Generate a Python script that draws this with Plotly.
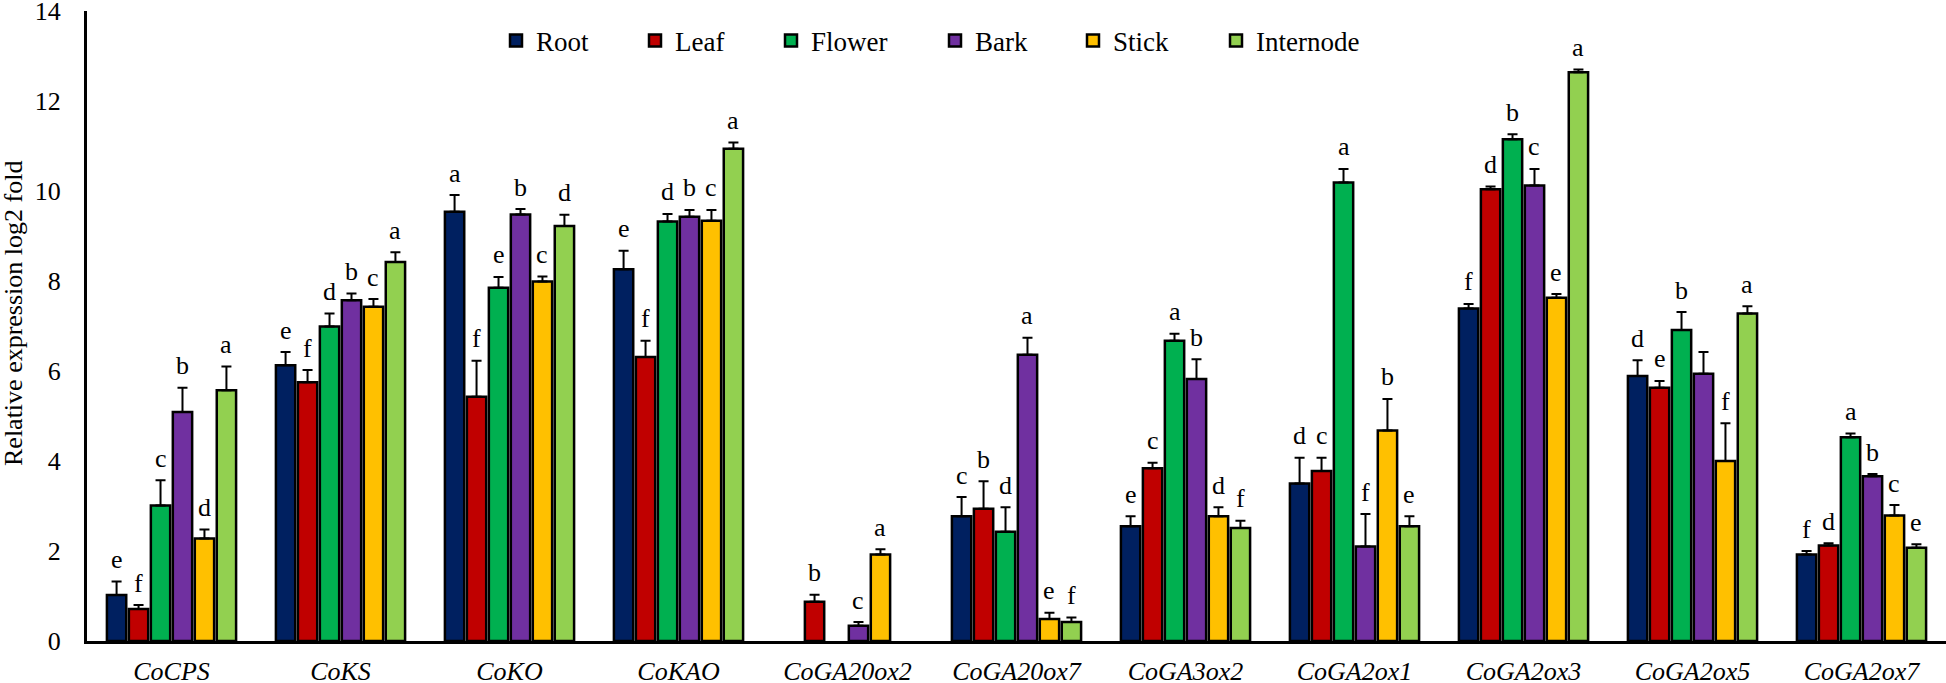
import plotly.graph_objects as go

categories = ["CoCPS", "CoKS", "CoKO", "CoKAO", "CoGA20ox2", "CoGA20ox7",
              "CoGA3ox2", "CoGA2ox1", "CoGA2ox3", "CoGA2ox5", "CoGA2ox7"]

series_names = ["Root", "Leaf", "Flower", "Bark", "Stick", "Internode"]

root = [1.02, 6.13, 9.54, 8.26, None, 2.77, 2.55, 3.50, 7.39, 5.89, 1.92]
root_err = [0.30, 0.29, 0.37, 0.41, 0, 0.43, 0.22, 0.57, 0.10, 0.35, 0.08]
root_sig = ["e", "e", "a", "e", "", "c", "e", "d", "f", "d", "f"]

leaf = [0.71, 5.75, 5.43, 6.31, 0.87, 2.94, 3.84, 3.78, 10.04, 5.63, 2.12]
leaf_err = [0.09, 0.27, 0.80, 0.36, 0.16, 0.61, 0.12, 0.29, 0.06, 0.15, 0.05]
leaf_sig = ["f", "f", "f", "f", "b", "b", "c", "c", "d", "e", "d"]

flower = [3.01, 6.99, 7.85, 9.32, None, 2.43, 6.67, 10.19, 11.15, 6.91, 4.53]
flower_err = [0.56, 0.29, 0.24, 0.17, 0, 0.54, 0.16, 0.30, 0.11, 0.40, 0.08]
flower_sig = ["c", "d", "e", "d", "", "d", "a", "a", "b", "b", "a"]

bark = [5.09, 7.57, 9.48, 9.43, 0.34, 6.36, 5.82, 2.10, 10.12, 5.94, 3.66]
bark_err = [0.54, 0.15, 0.12, 0.15, 0.08, 0.38, 0.44, 0.72, 0.37, 0.48, 0.05]
bark_sig = ["b", "b", "b", "b", "c", "a", "b", "f", "c", "", "b"]

stick = [2.28, 7.43, 7.99, 9.34, 1.92, 0.49, 2.77, 4.68, 7.63, 4.00, 2.79]
stick_err = [0.20, 0.17, 0.11, 0.24, 0.12, 0.14, 0.20, 0.70, 0.08, 0.84, 0.23]
stick_sig = ["d", "c", "c", "c", "a", "e", "d", "b", "e", "f", "c"]

internode = [5.57, 8.42, 9.22, 10.94, None, 0.42, 2.51, 2.55, 12.64, 7.28, 2.07]
internode_err = [0.53, 0.22, 0.25, 0.14, 0, 0.10, 0.16, 0.22, 0.06, 0.16, 0.08]
internode_sig = ["a", "a", "d", "a", "", "f", "f", "e", "a", "a", "e"]

colors = ["#002060", "#C00000", "#00B050", "#7030A0", "#FFC000", "#92D050"]

values = [root, leaf, flower, bark, stick, internode]
errors = [root_err, leaf_err, flower_err, bark_err, stick_err, internode_err]
sigs = [root_sig, leaf_sig, flower_sig, bark_sig, stick_sig, internode_sig]

FONT = "Liberation Serif"
W, H = 1946, 683
ML, MR, MT, MB = 87, 0, 11, 42
BARGAP = 0.22
plot_w = W - ML - MR
plot_h = H - MT - MB

# legend marker centres (px) as laid out in the original figure
legend_px = [515, 654, 790, 954, 1092, 1235]
legend_ids = ["legend"] + ["legend%d" % k for k in range(2, 7)]

fig = go.Figure()
for name, vals, errs, col, lid in zip(series_names, values, errors, colors, legend_ids):
    fig.add_trace(go.Bar(
        name=name, x=categories, y=vals, legend=lid,
        marker=dict(color=col, line=dict(color="black", width=2.5)),
        error_y=dict(type="data", array=errs, arrayminus=[0] * len(errs),
                     symmetric=False, color="black", thickness=2, width=5),
    ))

# significance letters above each error bar
cat_w = plot_w / len(categories)
slot = cat_w * (1 - BARGAP) / len(series_names)
annotations = []
for i, (vals, errs, sg) in enumerate(zip(values, errors, sigs)):
    for j, cat in enumerate(categories):
        if vals[j] is None or not sg[j]:
            continue
        annotations.append(dict(
            x=cat, y=vals[j] + errs[j], xref="x", yref="y",
            text=sg[j], showarrow=False,
            xshift=(i - 2.5) * slot, yshift=22, yanchor="middle",
            font=dict(family=FONT, size=26, color="black"),
        ))

# y-axis title
annotations.append(dict(
    text="Relative expression log2 fold", textangle=-90, showarrow=False,
    xref="paper", yref="paper", x=(13 - ML) / plot_w, y=(H - MB - 314) / plot_h,
    xanchor="center", yanchor="middle",
    font=dict(family=FONT, size=26, color="black"),
))

legend_layout = {}
for lid, px in zip(legend_ids, legend_px):
    legend_layout[lid] = dict(
        orientation="h", x=(px - 19 - ML) / plot_w, y=(H - MB - 41) / plot_h,
        xanchor="left", yanchor="middle",
        font=dict(family=FONT, size=27, color="black"),
        bgcolor="rgba(0,0,0,0)",
    )

fig.update_layout(
    width=W, height=H,
    margin=dict(l=ML, r=MR, t=MT, b=MB, autoexpand=False),
    paper_bgcolor="white", plot_bgcolor="white",
    barmode="group", bargap=BARGAP, bargroupgap=0.12,
    font=dict(family=FONT, size=25, color="black"),
    showlegend=True,
    annotations=annotations,
    xaxis=dict(showline=True, linecolor="black", linewidth=3, ticks="",
               showgrid=False, automargin=False,
               tickfont=dict(family=FONT, size=26, style="italic"),
               ticklabelstandoff=5),
    yaxis=dict(range=[0, 14], dtick=2, showline=True, linecolor="black", linewidth=3,
               ticks="", showgrid=False, zeroline=False, automargin=False,
               ticklabeloverflow="allow",
               tickfont=dict(family=FONT, size=26), ticklabelstandoff=18),
    **legend_layout,
)

fig.write_html("out.html", config={"displayModeBar": False},
               post_script="document.body.style.margin='0';")
